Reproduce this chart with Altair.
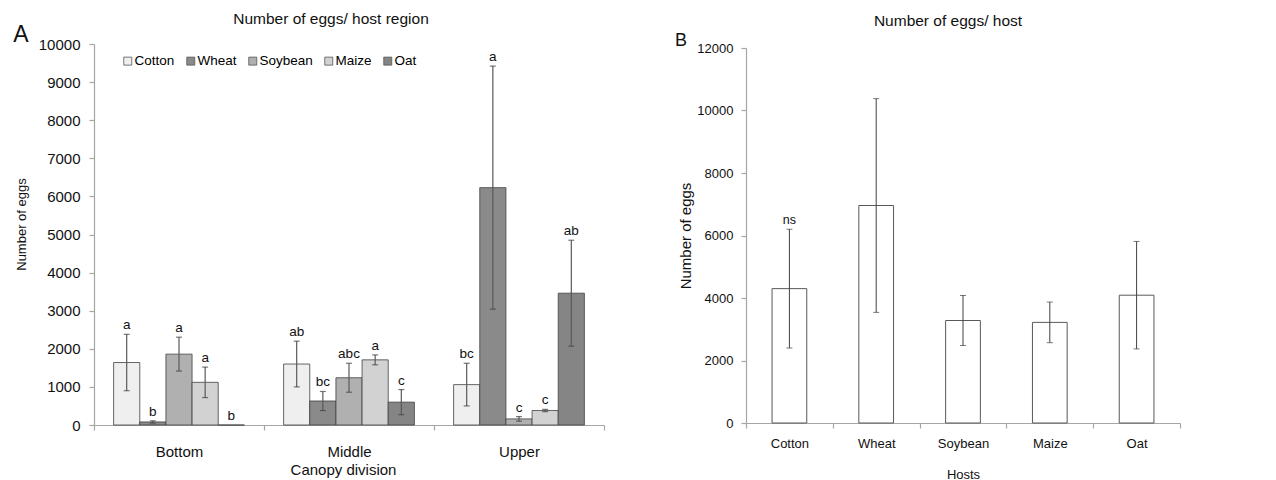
import altair as alt
import pandas as pd

FONT = "Liberation Sans"

canopy = ["Bottom", "Middle", "Upper"]
hosts = ["Cotton", "Wheat", "Soybean", "Maize", "Oat"]

eggs_bottom = [1640, 80, 1860, 1120, 0]
err_bottom = [740, 30, 445, 400, 0]
let_bottom = ["a", "b", "a", "a", "b"]

eggs_middle = [1600, 630, 1240, 1710, 600]
err_middle = [600, 250, 380, 130, 330]
let_middle = ["ab", "bc", "abc", "a", "c"]

eggs_upper = [1060, 6230, 160, 380, 3460]
err_upper = [560, 3190, 60, 30, 1390]
let_upper = ["bc", "a", "c", "c", "ab"]

host_eggs = [4300, 6960, 3280, 3220, 4090]
host_err = [1900, 3420, 800, 650, 1720]
host_letters = ["ns", "", "", "", ""]

host_fills = ["#efefef", "#8a8a8a", "#b0b0b0", "#d2d2d2", "#858585"]

rows = []
for c, vals, errs, lets in zip(canopy,
                               [eggs_bottom, eggs_middle, eggs_upper],
                               [err_bottom, err_middle, err_upper],
                               [let_bottom, let_middle, let_upper]):
    for h, v, e, l in zip(hosts, vals, errs, lets):
        rows.append({"canopy": c, "host": h, "eggs": v, "lo": v - e, "hi": v + e,
                     "err": e, "letter": l})
dfA = pd.DataFrame(rows)
dfA_err = dfA[dfA["err"] > 0]

dfB = pd.DataFrame({"host": hosts, "eggs": host_eggs,
                    "lo": [v - e for v, e in zip(host_eggs, host_err)],
                    "hi": [v + e for v, e in zip(host_eggs, host_err)],
                    "letter": host_letters})

AX = "#a6a6a6"

# ---------- Panel A ----------
axA_x = alt.Axis(title="Canopy division", labelAngle=0, tickBand="extent",
                 labelFontSize=15, titleFontSize=15, labelPadding=14,
                 titlePadding=3, tickSize=5, titleX=249, titleFontWeight="normal")
axA_y = alt.Axis(title="Number of eggs", values=list(range(0, 10001, 1000)),
                 format="d", labelFontSize=15, titleFontSize=13,
                 labelPadding=9, titlePadding=10, tickSize=5, titleY=180,
                 labelOverlap=False, titleFontWeight="normal")
xA = alt.X("canopy:N", sort=canopy,
           scale=alt.Scale(paddingInner=0, paddingOuter=0), axis=axA_x)
xoffA = alt.XOffset("host:N", sort=hosts,
                    scale=alt.Scale(paddingInner=0, paddingOuter=0.75))
yA_scale = alt.Scale(domain=[0, 10000], nice=False)


def yA(field):
    return alt.Y(field, stack=None, scale=yA_scale, axis=axA_y)


barsA = alt.Chart(dfA).mark_bar(stroke="#404040", strokeWidth=0.8).encode(
    x=xA, xOffset=xoffA, y=yA("eggs:Q"),
    fill=alt.Fill("host:N", sort=hosts,
                  scale=alt.Scale(domain=hosts, range=host_fills),
                  legend=alt.Legend(title=None, orient="none", direction="horizontal",
                                    legendX=27, legendY=10, symbolType="square",
                                    symbolSize=64, symbolStrokeColor="#555555",
                                    symbolStrokeWidth=0.8, labelFontSize=13.5,
                                    labelOffset=0, columnPadding=9,
                                    labelFont=FONT)),
)
rulesA = alt.Chart(dfA_err).mark_rule(color="#595959", strokeWidth=1.2).encode(
    x=xA, xOffset=xoffA, y=yA("lo:Q"), y2="hi:Q")
capsHiA = alt.Chart(dfA_err).mark_tick(color="#404040", size=6, thickness=1.2).encode(
    x=xA, xOffset=xoffA, y=yA("hi:Q"))
capsLoA = alt.Chart(dfA_err).mark_tick(color="#404040", size=6, thickness=1.2).encode(
    x=xA, xOffset=xoffA, y=yA("lo:Q"))
textA = alt.Chart(dfA).mark_text(baseline="bottom", dy=-2, fontSize=13.5,
                                 font=FONT, color="#111111").encode(
    x=xA, xOffset=xoffA, y=yA("hi:Q"), text="letter:N")
tagA = alt.Chart(pd.DataFrame({"t": ["A"]})).mark_text(
    fontSize=23, font=FONT, color="#111111").encode(
    x=alt.value(-73), y=alt.value(-9), text="t:N")

panelA = alt.layer(barsA, rulesA, capsHiA, capsLoA, textA, tagA).properties(
    width=510, height=381,
    title=alt.TitleParams("Number of eggs/  host region", fontSize=15.5,
                          fontWeight="normal", font=FONT, dx=-18, offset=-3))

# ---------- Panel B ----------
axB_x = alt.Axis(title="Hosts", labelAngle=0, tickBand="extent",
                 labelFontSize=13, titleFontSize=13, labelPadding=9,
                 titlePadding=18, tickSize=5, titleFontWeight="normal")
axB_y = alt.Axis(title="Number of eggs", values=list(range(0, 12001, 2000)),
                 format="d", labelFontSize=13, titleFontSize=15,
                 labelPadding=8, titlePadding=3, tickSize=5,
                 labelOverlap=False, titleFontWeight="normal")
xB = alt.X("host:N", sort=hosts,
           scale=alt.Scale(paddingInner=0, paddingOuter=0), axis=axB_x)
yB_scale = alt.Scale(domain=[0, 12000], nice=False, range=[379, 4])


def yB(field):
    return alt.Y(field, scale=yB_scale, axis=axB_y)


barsB = alt.Chart(dfB).mark_bar(fill="white", stroke="#595959", strokeWidth=1,
                                width=alt.RelativeBandSize(0.4)).encode(
    x=xB, y=yB("eggs:Q"))
rulesB = alt.Chart(dfB).mark_rule(color="#404040", strokeWidth=1).encode(
    x=xB, y=yB("lo:Q"), y2="hi:Q")
capsHiB = alt.Chart(dfB).mark_tick(color="#404040", size=6, thickness=1).encode(
    x=xB, y=yB("hi:Q"))
capsLoB = alt.Chart(dfB).mark_tick(color="#404040", size=6, thickness=1).encode(
    x=xB, y=yB("lo:Q"))
textB = alt.Chart(dfB).mark_text(baseline="bottom", dy=-2, fontSize=12.5,
                                 font=FONT, color="#111111").encode(
    x=xB, y=yB("hi:Q"), text="letter:N")
tagB = alt.Chart(pd.DataFrame({"t": ["B"]})).mark_text(
    fontSize=18, font=FONT, color="#111111").encode(
    x=alt.value(-65), y=alt.value(-3), text="t:N")

panelB = alt.layer(barsB, rulesB, capsHiB, capsLoB, textB, tagB).properties(
    width=434, height=379,
    title=alt.TitleParams("Number of eggs/ host", fontSize=15.5,
                          fontWeight="normal", font=FONT, dx=-15, offset=3))

chart = alt.hconcat(panelA, panelB, spacing=69).configure(
    font=FONT, padding={"left": 5, "top": 3, "right": 5, "bottom": 0}
).configure_view(stroke=None).configure_axis(
    domainColor=AX, tickColor=AX, labelColor="#111111", titleColor="#111111",
    grid=False, labelFont=FONT, titleFont=FONT, domainWidth=1.2, tickWidth=1.2
).configure_title(color="#111111")

chart.save("out.html", embed_options={"renderer": "svg", "actions": False})
